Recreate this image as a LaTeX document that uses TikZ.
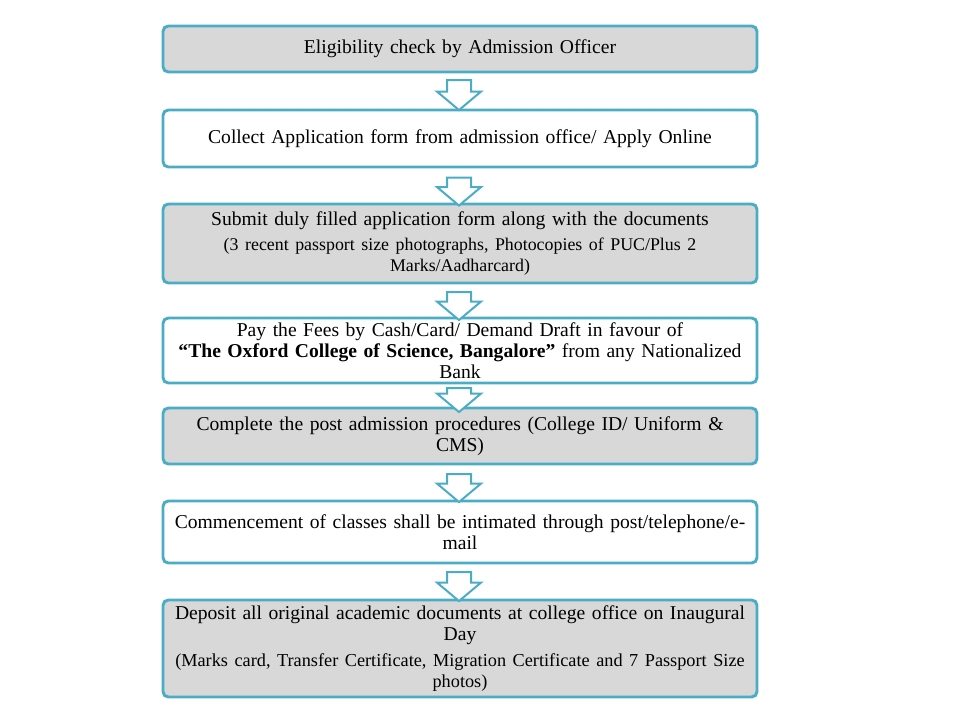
\documentclass[tikz,border=0pt]{standalone}
\usepackage{fontspec}
\setmainfont{Liberation Serif}
\usepackage{tikz}
\usetikzlibrary{shapes.arrows}

\definecolor{aqua}{RGB}{75,172,198}
\definecolor{boxgray}{RGB}{216,216,216}

\tikzset{
  stepbox/.style={draw=aqua, line width=2.2pt, rounded corners=4pt, fill=white,
    minimum width=445.5pt, text width=444pt, align=center, inner sep=0pt,
    font=\fontsize{14.7}{15.8}\selectfont},
  graybox/.style={stepbox, fill=boxgray},
  downarrow/.style={draw=aqua, line width=1.5pt, fill=white, single arrow, rotate=-90,
    single arrow head extend=7.5pt, single arrow tip angle=100,
    inner xsep=0pt, inner ysep=8.25pt}
}

\begin{document}
\begin{tikzpicture}[x=0.75pt,y=0.75pt,yscale=-1,xscale=1]
\useasboundingbox (0,0) rectangle (977,720);

% Steps
\node [graybox, minimum height=34.5pt] (elig) at (460,49) {Eligibility check by Admission Officer};
\node [stepbox, minimum height=42.75pt] (collect) at (460,138.5) {Collect Application form from admission office/ Apply Online};
\node [graybox, minimum height=59.25pt] (submit) at (460,243.5) {Submit duly filled application form along with the documents\\[5pt]
{\fontsize{13.4}{14}\selectfont (3 recent passport size photographs, Photocopies of PUC/Plus 2\\ Marks/Aadharcard)}};
\node [stepbox, minimum height=48.75pt] (fees) at (460,350.5) {Pay the Fees by Cash/Card/ Demand Draft in favour of\\
\textbf{``The Oxford College of Science, Bangalore''} from any Nationalized\\ Bank};
\node [graybox, minimum height=42pt] (post) at (460,436) {Complete the post admission procedures (College ID/ Uniform \&\\ CMS)};
\node [stepbox, minimum height=46.5pt] (classes) at (460,532) {Commencement of classes shall be intimated through post/telephone/e-\\ mail};
\node [graybox, minimum height=72.75pt] (deposit) at (460,648.5) {Deposit all original academic documents at college office on Inaugural\\ Day\\[5pt]
{\fontsize{13.7}{15}\selectfont (Marks card, Transfer Certificate, Migration Certificate and 7 Passport Size\\ photos)}};

% Arrows
\node [downarrow, minimum height=22.5pt] (a1) at (459,90) {};
\node [downarrow, minimum height=21pt] (a2) at (459,186.5) {};
\node [downarrow, minimum height=21pt] (a3) at (459,301) {};
\node [downarrow, minimum height=18pt] (a4) at (459,395) {};
\node [downarrow, minimum height=21pt] (a5) at (459,483) {};
\node [downarrow, minimum height=21.75pt] (a6) at (459,581.5) {};

\end{tikzpicture}
\end{document}
